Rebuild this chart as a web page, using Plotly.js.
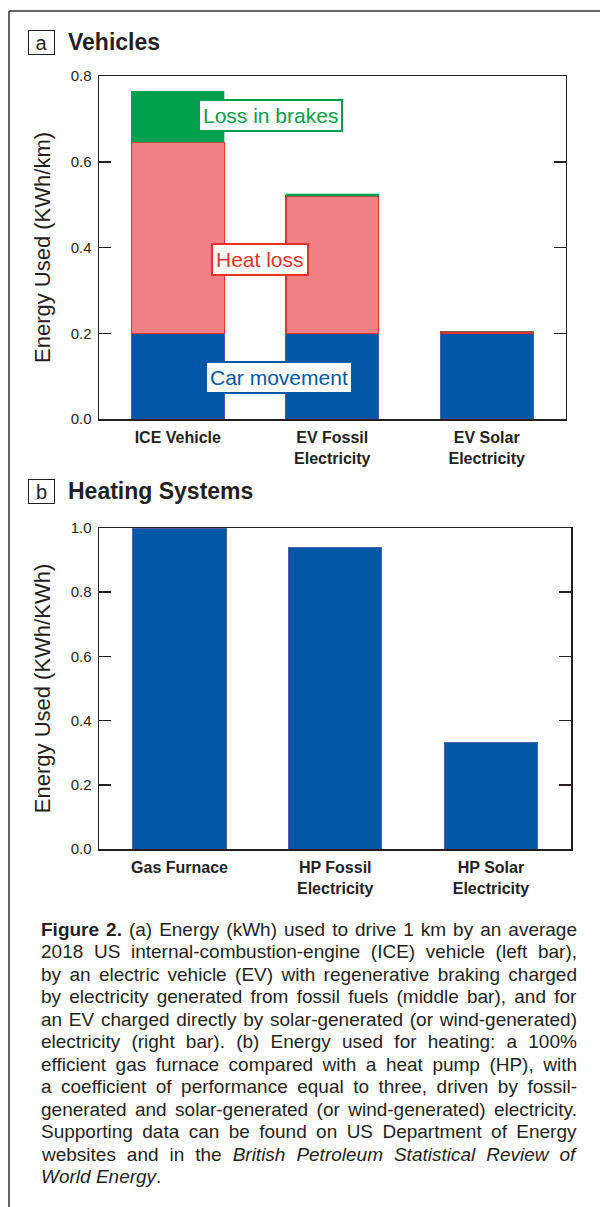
<!DOCTYPE html>
<html>
<head>
<meta charset="utf-8">
<script src="https://cdn.plot.ly/plotly-3.0.1.min.js"></script>
<style>
html,body{margin:0;padding:0;background:#fff;}
#chart{width:600px;height:1207px;}
</style>
</head>
<body>
<div id="chart"></div>
<script>
// ---- Data ----
const vehicleCats = ['ICE Vehicle', 'EV Fossil<br>Electricity', 'EV Solar<br>Electricity'];
const carMovement = [0.2, 0.2, 0.2];
const heatLoss = [0.445, 0.32, 0.003];
const brakeLoss = [0.12, 0.005, 0];
const heatingCats = ['Gas Furnace', 'HP Fossil<br>Electricity', 'HP Solar<br>Electricity'];
const heatingEnergy = [1.0, 0.94, 0.333];
const vehicleTicks = [0.0, 0.2, 0.4, 0.6, 0.8];
const heatingTicks = [0.0, 0.2, 0.4, 0.6, 0.8, 1.0];
const captionLines = [
  '<b>Figure 2.</b> (a) Energy (kWh) used to drive 1 km by an average',
  '2018 US internal-combustion-engine (ICE) vehicle (left bar),',
  'by an electric vehicle (EV) with regenerative braking charged',
  'by electricity generated from fossil fuels (middle bar), and for',
  'an EV charged directly by solar-generated (or wind-generated)',
  'electricity (right bar). (b) Energy used for heating: a 100%',
  'efficient gas furnace compared with a heat pump (HP), with',
  'a coefficient of performance equal to three, driven by fossil-',
  'generated and solar-generated (or wind-generated) electricity.',
  'Supporting data can be found on US Department of Energy',
  'websites and in the <i>British Petroleum Statistical Review of</i>',
  '<i>World Energy</i>.'
];

// ---- Style ----
const W = 600, H = 1207;
const FONT = 'Liberation Sans, Arial, Helvetica, sans-serif';
const BLUE = '#0057a6', RED_FILL = '#f28185', RED = '#e8312f', GREEN = '#00a04d';
const TXT = '#231f20';
const px = x => x / W;
const py = y => (H - y) / H;

const traces = [
  {type:'bar', x: vehicleCats, y: carMovement, name:'Car movement', xaxis:'x', yaxis:'y',
   width:0.6, marker:{color:BLUE, line:{color:'#3f63b0', width:1}}, hoverinfo:'y'},
  {type:'bar', x: vehicleCats, y: heatLoss, name:'Heat loss', xaxis:'x', yaxis:'y',
   width:0.6, marker:{color:RED_FILL, line:{color:RED, width:1.2}}, hoverinfo:'y'},
  {type:'bar', x: vehicleCats, y: brakeLoss, name:'Loss in brakes', xaxis:'x', yaxis:'y',
   width:0.6, marker:{color:GREEN, line:{color:GREEN, width:0.3}}, hoverinfo:'y'},
  {type:'bar', x: heatingCats, y: heatingEnergy, name:'Heating', xaxis:'x2', yaxis:'y2',
   width:0.6, marker:{color:BLUE, line:{color:'#4a5fae', width:1}}, hoverinfo:'y'}
];

function yAxis(domain, range, ticks, title, anchor) {
  return {
    domain: domain, range: range, anchor: anchor, tickvals: ticks, ticktext: ticks.map(v => v.toFixed(1)),
    ticks: 'inside', ticklen: 12, tickwidth: 1.5, tickcolor: TXT,
    showline: true, linecolor: TXT, linewidth: 1.5, mirror: 'ticks',
    showgrid: false, zeroline: false, fixedrange: true,
    tickfont: {family: FONT, size: 15, color: TXT}, ticklabelstandoff: 3,
    title: {text: title, font: {family: FONT, size: 22, color: TXT}, standoff: 14}
  };
}
function xAxis(domain, range, anchor) {
  return {
    domain: domain, range: range, anchor: anchor, type: 'category',
    showline: true, linecolor: TXT, linewidth: 1.5, mirror: true,
    ticks: '', showgrid: false, zeroline: false, fixedrange: true,
    ticklabelstandoff: 3,
    tickfont: {family: FONT, size: 16, color: TXT, weight: 'bold'}
  };
}

const annotations = [];
function boxLabel(text, cx, cy, color) {
  annotations.push({xref:'paper', yref:'paper', x: px(cx), y: py(cy), xanchor:'center', yanchor:'middle',
    text: text, showarrow:false, font:{family:FONT, size:21, color:color},
    bgcolor:'#ffffff', bordercolor:color, borderwidth:2, borderpad:3});
}
boxLabel('Loss in brakes', 270, 115.5, GREEN);
boxLabel('Heat loss', 260, 259.5, RED);
boxLabel('Car movement', 279, 377.5, BLUE);

function panelHeader(letter, title, cy) {
  annotations.push({xref:'paper', yref:'paper', x: px(41.5), y: py(cy), xanchor:'center', yanchor:'middle',
    text: letter, showarrow:false, font:{family:FONT, size:20, color:TXT},
    width: 25, height: 23, borderpad: 0, bordercolor: TXT, borderwidth: 1, bgcolor:'#fff'});
  annotations.push({xref:'paper', yref:'paper', x: px(66), y: py(cy), xanchor:'left', yanchor:'middle',
    text: '<b>' + title + '</b>', showarrow:false, font:{family:FONT, size:23, color:TXT}});
}
panelHeader('a', 'Vehicles', 42);
panelHeader('b', 'Heating Systems', 491);

const captionStart = annotations.length;
captionLines.forEach((line, i) => {
  annotations.push({xref:'paper', yref:'paper', x: px(39), y: py(929 + i * 22.5), xanchor:'left', yanchor:'middle',
    text: line, showarrow:false, align:'left', font:{family:FONT, size:19, color:TXT}});
});

const shapes = [
  {type:'line', xref:'paper', yref:'paper', x0: px(9), x1: 1, y0: py(11), y1: py(11), line:{color:'#333', width:1.5}},
  {type:'line', xref:'paper', yref:'paper', x0: px(9), x1: px(9), y0: py(11), y1: 0, line:{color:'#333', width:1.5}}
];

const layout = {
  width: W, height: H, margin: {l:0, r:0, t:0, b:0},
  paper_bgcolor: '#fff', plot_bgcolor: '#fff', showlegend: false,
  barmode: 'stack', bargap: 0.4,
  font: {family: FONT, color: TXT},
  xaxis: xAxis([px(99), px(565.5)], [-0.51, 2.51], 'y'),
  yaxis: yAxis([py(419), py(76)], [0, 0.8], vehicleTicks, 'Energy Used (KWh/km)', 'x'),
  xaxis2: xAxis([px(99), px(571)], [-0.517, 2.514], 'y2'),
  yaxis2: yAxis([py(849), py(528)], [0, 1.0], heatingTicks, 'Energy Used (KWh/KWh)', 'x2'),
  annotations: annotations, shapes: shapes
};

// Justify caption lines (all but the last) to the caption width, like the printed figure.
function justifyCaption(gd) {
  const target = 575 - 39;
  const groups = gd.querySelectorAll('g.annotation');
  groups.forEach(g => {
    const idx = +g.getAttribute('data-index');
    if (idx < captionStart || idx >= captionStart + captionLines.length - 1) return;
    const t = g.querySelector('text.annotation-text');
    if (!t) return;
    const w = t.getBBox().width;
    const n = (t.textContent.match(/ /g) || []).length;
    if (n > 0 && w < target) t.style.wordSpacing = ((target - w) / n) + 'px';
  });
}

Plotly.newPlot('chart', traces, layout, {displayModeBar: false, staticPlot: true}).then(justifyCaption);
</script>
</body>
</html>
